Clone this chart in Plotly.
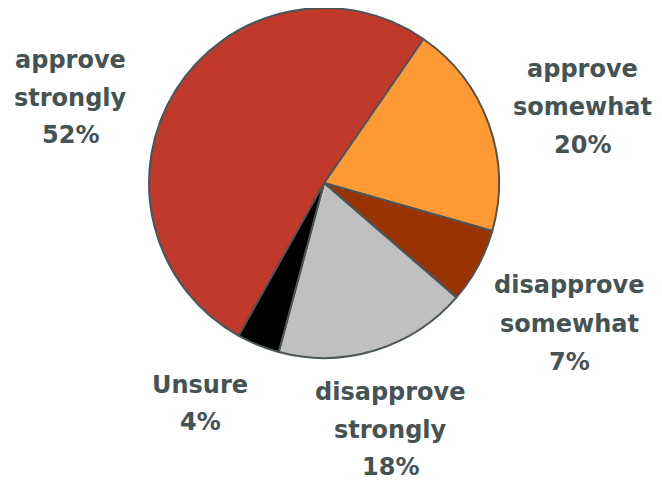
import plotly.graph_objects as go

labels = ["approve somewhat", "disapprove somewhat", "disapprove strongly", "Unsure", "approve strongly"]
values = [20, 7, 18, 4, 52]
label_lines = [["approve", "somewhat"], ["disapprove", "somewhat"], ["disapprove", "strongly"], ["Unsure"], ["approve", "strongly"]]
colors = ["#FF9933", "#993300", "#C0C0C0", "#000000", "#C0392B"]

# page has an 8px body margin; figure sized to fit the 662x481 window
OFF = 8
W, H = 662 - OFF, 481 - OFF
TEXT_COLOR = "#465355"
FONT = "DejaVu Sans"
FSIZE = 24


def px(x):
    return min(1.0, max(0.0, (x - OFF) / W))


def py(y):
    return min(1.0, max(0.0, 1 - (y - OFF) / H))


fig = go.Figure(go.Pie(
    labels=labels, values=values, sort=False, direction="clockwise", rotation=34.6,
    marker=dict(colors=colors, line=dict(color="#4A5658", width=2)),
    textinfo="none", hoverinfo="label+percent", showlegend=False,
    domain=dict(x=[px(149), px(499)], y=[py(358), py(8)]),
))

# label anchor positions in window pixels: (center x, first baseline y, line spacing)
label_pos = [(582, 77, 38), (569, 293, 38.5), (390, 400, 37.5), (200, 393, 37), (70, 68, 37.5)]

annotations = []
for lines, v, (cx, by, sp) in zip(label_lines, values, label_pos):
    for i, t in enumerate(lines + [f"{v}%"]):
        yb = by + i * sp
        annotations.append(dict(
            x=px(cx), y=py(yb - 8), xref="paper", yref="paper",
            text=t, showarrow=False, xanchor="center", yanchor="middle",
            font=dict(family=FONT, size=FSIZE, color=TEXT_COLOR, weight="bold"),
        ))

fig.update_layout(
    width=W, height=H, margin=dict(l=0, r=0, t=0, b=0),
    paper_bgcolor="white", plot_bgcolor="white",
    annotations=annotations,
)
fig.write_html("out.html")
